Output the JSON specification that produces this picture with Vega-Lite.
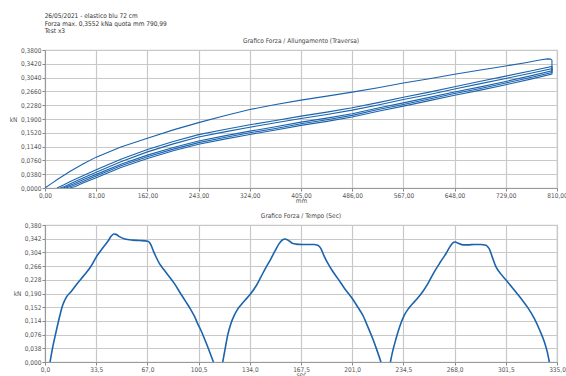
{
  "$schema": "https://vega.github.io/schema/vega-lite/v6.json",
  "padding": {"left": 8, "top": 13, "right": 4, "bottom": 0},
  "title": {
    "text": ["26/05/2021 - elastico blu 72 cm", "Forza max. 0,3552 kNa quota mm 790,99", "Test x3"],
    "anchor": "start", "fontSize": 6.5, "fontWeight": "normal", "color": "#333",
    "lineHeight": 7.5, "dx": 36, "offset": 2, "font": "Liberation Sans Narrow, DejaVu Sans Condensed, Roboto"
  },
  "datasets": {
    "fd": [
      {"c":1,"i":0,"mm":0,"kN":0},{"c":1,"i":1,"mm":10,"kN":0.012},{"c":1,"i":2,"mm":20,"kN":0.024},{"c":1,"i":3,"mm":40,"kN":0.046},{"c":1,"i":4,"mm":60,"kN":0.066},{"c":1,"i":5,"mm":81,"kN":0.085},{"c":1,"i":6,"mm":120,"kN":0.113},{"c":1,"i":7,"mm":162,"kN":0.137},{"c":1,"i":8,"mm":203,"kN":0.16},{"c":1,"i":9,"mm":243,"kN":0.18},{"c":1,"i":10,"mm":284,"kN":0.199},{"c":1,"i":11,"mm":324,"kN":0.216},{"c":1,"i":12,"mm":365,"kN":0.23},{"c":1,"i":13,"mm":405,"kN":0.242},{"c":1,"i":14,"mm":446,"kN":0.253},{"c":1,"i":15,"mm":486,"kN":0.264},{"c":1,"i":16,"mm":527,"kN":0.276},{"c":1,"i":17,"mm":567,"kN":0.289},{"c":1,"i":18,"mm":608,"kN":0.301},{"c":1,"i":19,"mm":648,"kN":0.313},{"c":1,"i":20,"mm":689,"kN":0.325},{"c":1,"i":21,"mm":729,"kN":0.336},{"c":1,"i":22,"mm":760,"kN":0.345},{"c":1,"i":23,"mm":785,"kN":0.353},{"c":1,"i":24,"mm":795,"kN":0.3555},{"c":1,"i":25,"mm":800,"kN":0.355},{"c":1,"i":26,"mm":802,"kN":0.352},
      {"c":1,"i":27,"mm":802,"kN":0.3225},{"c":1,"i":28,"mm":770,"kN":0.3095},{"c":1,"i":29,"mm":729,"kN":0.2935},{"c":1,"i":30,"mm":689,"kN":0.2785},{"c":1,"i":31,"mm":648,"kN":0.2645},{"c":1,"i":32,"mm":608,"kN":0.2495},{"c":1,"i":33,"mm":567,"kN":0.2345},{"c":1,"i":34,"mm":527,"kN":0.2205},{"c":1,"i":35,"mm":486,"kN":0.2045},{"c":1,"i":36,"mm":446,"kN":0.1925},{"c":1,"i":37,"mm":405,"kN":0.1815},{"c":1,"i":38,"mm":365,"kN":0.1685},{"c":1,"i":39,"mm":324,"kN":0.1565},{"c":1,"i":40,"mm":284,"kN":0.1435},{"c":1,"i":41,"mm":243,"kN":0.1295},{"c":1,"i":42,"mm":203,"kN":0.1115},{"c":1,"i":43,"mm":162,"kN":0.0905},{"c":1,"i":44,"mm":120,"kN":0.0655},{"c":1,"i":45,"mm":81,"kN":0.0375},{"c":1,"i":46,"mm":60,"kN":0.0225},{"c":1,"i":47,"mm":45,"kN":0.011},{"c":1,"i":48,"mm":29,"kN":0},
      {"c":2,"i":0,"mm":19,"kN":0},{"c":2,"i":1,"mm":30,"kN":0.009},{"c":2,"i":2,"mm":40,"kN":0.018},{"c":2,"i":3,"mm":60,"kN":0.034},{"c":2,"i":4,"mm":81,"kN":0.05},{"c":2,"i":5,"mm":120,"kN":0.079},{"c":2,"i":6,"mm":162,"kN":0.106},{"c":2,"i":7,"mm":203,"kN":0.128},{"c":2,"i":8,"mm":243,"kN":0.147},{"c":2,"i":9,"mm":284,"kN":0.161},{"c":2,"i":10,"mm":324,"kN":0.174},{"c":2,"i":11,"mm":365,"kN":0.186},{"c":2,"i":12,"mm":405,"kN":0.198},{"c":2,"i":13,"mm":446,"kN":0.209},{"c":2,"i":14,"mm":486,"kN":0.221},{"c":2,"i":15,"mm":527,"kN":0.235},{"c":2,"i":16,"mm":567,"kN":0.25},{"c":2,"i":17,"mm":608,"kN":0.264},{"c":2,"i":18,"mm":648,"kN":0.279},{"c":2,"i":19,"mm":689,"kN":0.294},{"c":2,"i":20,"mm":729,"kN":0.308},{"c":2,"i":21,"mm":770,"kN":0.323},{"c":2,"i":22,"mm":802,"kN":0.335},
      {"c":2,"i":23,"mm":802,"kN":0.318},{"c":2,"i":24,"mm":770,"kN":0.305},{"c":2,"i":25,"mm":729,"kN":0.289},{"c":2,"i":26,"mm":689,"kN":0.274},{"c":2,"i":27,"mm":648,"kN":0.26},{"c":2,"i":28,"mm":608,"kN":0.245},{"c":2,"i":29,"mm":567,"kN":0.23},{"c":2,"i":30,"mm":527,"kN":0.216},{"c":2,"i":31,"mm":486,"kN":0.2},{"c":2,"i":32,"mm":446,"kN":0.188},{"c":2,"i":33,"mm":405,"kN":0.177},{"c":2,"i":34,"mm":365,"kN":0.164},{"c":2,"i":35,"mm":324,"kN":0.152},{"c":2,"i":36,"mm":284,"kN":0.139},{"c":2,"i":37,"mm":243,"kN":0.125},{"c":2,"i":38,"mm":203,"kN":0.107},{"c":2,"i":39,"mm":162,"kN":0.086},{"c":2,"i":40,"mm":120,"kN":0.061},{"c":2,"i":41,"mm":81,"kN":0.033},{"c":2,"i":42,"mm":60,"kN":0.018},{"c":2,"i":43,"mm":45,"kN":0.007},{"c":2,"i":44,"mm":33,"kN":0},
      {"c":3,"i":0,"mm":24,"kN":0},{"c":3,"i":1,"mm":32,"kN":0.005},{"c":3,"i":2,"mm":40,"kN":0.0115},{"c":3,"i":3,"mm":60,"kN":0.0275},{"c":3,"i":4,"mm":81,"kN":0.0435},{"c":3,"i":5,"mm":120,"kN":0.0725},{"c":3,"i":6,"mm":162,"kN":0.0995},{"c":3,"i":7,"mm":203,"kN":0.1215},{"c":3,"i":8,"mm":243,"kN":0.1405},{"c":3,"i":9,"mm":284,"kN":0.1545},{"c":3,"i":10,"mm":324,"kN":0.1675},{"c":3,"i":11,"mm":365,"kN":0.1795},{"c":3,"i":12,"mm":405,"kN":0.1915},{"c":3,"i":13,"mm":446,"kN":0.2025},{"c":3,"i":14,"mm":486,"kN":0.2145},{"c":3,"i":15,"mm":527,"kN":0.2285},{"c":3,"i":16,"mm":567,"kN":0.2435},{"c":3,"i":17,"mm":608,"kN":0.2575},{"c":3,"i":18,"mm":648,"kN":0.2725},{"c":3,"i":19,"mm":689,"kN":0.2875},{"c":3,"i":20,"mm":729,"kN":0.3015},{"c":3,"i":21,"mm":770,"kN":0.3165},{"c":3,"i":22,"mm":802,"kN":0.3285},
      {"c":3,"i":23,"mm":802,"kN":0.3135},{"c":3,"i":24,"mm":770,"kN":0.3005},{"c":3,"i":25,"mm":729,"kN":0.2845},{"c":3,"i":26,"mm":689,"kN":0.2695},{"c":3,"i":27,"mm":648,"kN":0.2555},{"c":3,"i":28,"mm":608,"kN":0.2405},{"c":3,"i":29,"mm":567,"kN":0.2255},{"c":3,"i":30,"mm":527,"kN":0.2115},{"c":3,"i":31,"mm":486,"kN":0.1955},{"c":3,"i":32,"mm":446,"kN":0.1835},{"c":3,"i":33,"mm":405,"kN":0.1725},{"c":3,"i":34,"mm":365,"kN":0.1595},{"c":3,"i":35,"mm":324,"kN":0.1475},{"c":3,"i":36,"mm":284,"kN":0.1345},{"c":3,"i":37,"mm":243,"kN":0.1205},{"c":3,"i":38,"mm":203,"kN":0.1025},{"c":3,"i":39,"mm":162,"kN":0.0815},{"c":3,"i":40,"mm":120,"kN":0.0565},{"c":3,"i":41,"mm":81,"kN":0.0285},{"c":3,"i":42,"mm":60,"kN":0.0135},{"c":3,"i":43,"mm":48,"kN":0.004},{"c":3,"i":44,"mm":39,"kN":0}
    ],
    "ft": [
      {"c":1,"t":3.3,"kN":0},{"c":1,"t":5,"kN":0.04},{"c":1,"t":7.2,"kN":0.083},{"c":1,"t":9.5,"kN":0.125},{"c":1,"t":11.6,"kN":0.158},{"c":1,"t":14,"kN":0.18},{"c":1,"t":17,"kN":0.195},{"c":1,"t":21,"kN":0.217},{"c":1,"t":25.7,"kN":0.241},{"c":1,"t":30,"kN":0.265},{"c":1,"t":33.8,"kN":0.293},{"c":1,"t":37.5,"kN":0.315},{"c":1,"t":41,"kN":0.334},{"c":1,"t":43.5,"kN":0.35},{"c":1,"t":45,"kN":0.355},{"c":1,"t":46.5,"kN":0.354},{"c":1,"t":49,"kN":0.347},{"c":1,"t":52.3,"kN":0.341},{"c":1,"t":57.4,"kN":0.338},{"c":1,"t":62,"kN":0.337},{"c":1,"t":67.2,"kN":0.335},{"c":1,"t":68.5,"kN":0.331},{"c":1,"t":69.4,"kN":0.324},{"c":1,"t":71,"kN":0.307},{"c":1,"t":72.6,"kN":0.292},{"c":1,"t":75,"kN":0.272},{"c":1,"t":78,"kN":0.255},{"c":1,"t":84.6,"kN":0.218},{"c":1,"t":89,"kN":0.188},{"c":1,"t":92,"kN":0.168},{"c":1,"t":95,"kN":0.148},{"c":1,"t":98,"kN":0.125},{"c":1,"t":100,"kN":0.105},{"c":1,"t":102,"kN":0.088},{"c":1,"t":104,"kN":0.068},{"c":1,"t":106,"kN":0.047},{"c":1,"t":108,"kN":0.025},{"c":1,"t":110.2,"kN":0},
      {"c":2,"t":116.3,"kN":0},{"c":2,"t":118,"kN":0.04},{"c":2,"t":119.5,"kN":0.074},{"c":2,"t":121.5,"kN":0.105},{"c":2,"t":123.9,"kN":0.13},{"c":2,"t":126,"kN":0.146},{"c":2,"t":128.2,"kN":0.158},{"c":2,"t":131,"kN":0.172},{"c":2,"t":134.3,"kN":0.188},{"c":2,"t":138,"kN":0.21},{"c":2,"t":141.3,"kN":0.236},{"c":2,"t":144.5,"kN":0.262},{"c":2,"t":147.9,"kN":0.287},{"c":2,"t":150.5,"kN":0.308},{"c":2,"t":153.3,"kN":0.329},{"c":2,"t":155.5,"kN":0.339},{"c":2,"t":157,"kN":0.341},{"c":2,"t":158.5,"kN":0.339},{"c":2,"t":160,"kN":0.335},{"c":2,"t":162,"kN":0.329},{"c":2,"t":164.2,"kN":0.327},{"c":2,"t":168,"kN":0.326},{"c":2,"t":171.8,"kN":0.326},{"c":2,"t":176,"kN":0.326},{"c":2,"t":178.4,"kN":0.324},{"c":2,"t":179.8,"kN":0.319},{"c":2,"t":180.6,"kN":0.314},{"c":2,"t":182.5,"kN":0.295},{"c":2,"t":185,"kN":0.274},{"c":2,"t":188,"kN":0.253},{"c":2,"t":191.5,"kN":0.232},{"c":2,"t":196,"kN":0.204},{"c":2,"t":201.7,"kN":0.172},{"c":2,"t":205,"kN":0.15},{"c":2,"t":207.9,"kN":0.13},{"c":2,"t":211,"kN":0.1},{"c":2,"t":214.4,"kN":0.065},{"c":2,"t":217,"kN":0.035},{"c":2,"t":219.8,"kN":0},
      {"c":3,"t":226,"kN":0},{"c":3,"t":227.5,"kN":0.03},{"c":3,"t":229.7,"kN":0.065},{"c":3,"t":232,"kN":0.097},{"c":3,"t":235.1,"kN":0.13},{"c":3,"t":238,"kN":0.149},{"c":3,"t":240.6,"kN":0.162},{"c":3,"t":244,"kN":0.178},{"c":3,"t":247.1,"kN":0.195},{"c":3,"t":251,"kN":0.221},{"c":3,"t":254.7,"kN":0.25},{"c":3,"t":258.5,"kN":0.276},{"c":3,"t":262.4,"kN":0.301},{"c":3,"t":265,"kN":0.32},{"c":3,"t":267.4,"kN":0.332},{"c":3,"t":268.5,"kN":0.333},{"c":3,"t":270,"kN":0.33},{"c":3,"t":273.3,"kN":0.325},{"c":3,"t":277,"kN":0.325},{"c":3,"t":280.9,"kN":0.326},{"c":3,"t":285,"kN":0.326},{"c":3,"t":288.5,"kN":0.324},{"c":3,"t":289.8,"kN":0.319},{"c":3,"t":290.7,"kN":0.314},{"c":3,"t":292.5,"kN":0.293},{"c":3,"t":295.1,"kN":0.264},{"c":3,"t":298.5,"kN":0.243},{"c":3,"t":302.7,"kN":0.222},{"c":3,"t":307,"kN":0.2},{"c":3,"t":311.5,"kN":0.176},{"c":3,"t":316,"kN":0.15},{"c":3,"t":320.2,"kN":0.12},{"c":3,"t":323.5,"kN":0.09},{"c":3,"t":326.7,"kN":0.056},{"c":3,"t":328.5,"kN":0.03},{"c":3,"t":330,"kN":0}
    ]
  },
  "vconcat": [
    {
      "width": 512, "height": 138,
      "title": {"text": "Grafico Forza / Allungamento (Traversa)", "offset": 3},
      "data": {"name": "fd"},
      "mark": {"type": "line", "color": "#1b64ad", "strokeWidth": 1.1, "interpolate": "linear", "clip": true},
      "encoding": {
        "x": {"field": "mm", "type": "quantitative", "scale": {"domain": [0, 810], "nice": false},
              "axis": {"title": "mm", "values": [0,81,162,243,324,405,486,567,648,729,810], "labelExpr": "replace(format(datum.value, '.2f'), '.', ',')"}},
        "y": {"field": "kN", "type": "quantitative", "scale": {"domain": [0, 0.38], "nice": false},
              "axis": {"title": "kN", "titleY": 69, "titleX": -28, "values": [0,0.038,0.076,0.114,0.152,0.19,0.228,0.266,0.304,0.342,0.38], "labelExpr": "replace(format(datum.value, '.4f'), '.', ',')"}},
        "detail": {"field": "c"},
        "order": {"field": "i", "type": "quantitative"}
      }
    },
    {
      "width": 512, "height": 137,
      "title": {"text": "Grafico Forza / Tempo (Sec)", "offset": 3},
      "data": {"name": "ft"},
      "mark": {"type": "line", "color": "#1b64ad", "strokeWidth": 1.6, "interpolate": "monotone", "clip": true},
      "encoding": {
        "x": {"field": "t", "type": "quantitative", "scale": {"domain": [0, 335], "nice": false},
              "axis": {"title": "sec", "values": [0,33.5,67,100.5,134,167.5,201,234.5,268,301.5,335], "labelExpr": "replace(format(datum.value, '.1f'), '.', ',')"}},
        "y": {"field": "kN", "type": "quantitative", "scale": {"domain": [0, 0.38], "nice": false},
              "axis": {"title": "kN", "titleY": 68.5, "titleX": -24, "values": [0,0.038,0.076,0.114,0.152,0.19,0.228,0.266,0.304,0.342,0.38], "labelExpr": "replace(format(datum.value, '.3f'), '.', ',')"}},
        "detail": {"field": "c"}
      }
    }
  ],
  "spacing": 6,
  "config": {
    "font": "Liberation Sans Narrow, DejaVu Sans Condensed, Roboto",
    "view": {"stroke": "#c8c8c8", "strokeWidth": 1.2},
    "title": {"fontSize": 6.5, "fontWeight": "normal", "color": "#444", "font": "Liberation Sans Narrow, DejaVu Sans Condensed, Roboto"},
    "axis": {
      "labelFont": "Liberation Sans Narrow, DejaVu Sans Condensed, Roboto",
      "titleFont": "Liberation Sans Narrow, DejaVu Sans Condensed, Roboto",
      "labelFontSize": 6.5, "labelColor": "#555", "labelPadding": 1,
      "titleFontSize": 6.5, "titleFontWeight": "normal", "titleColor": "#555",
      "tickColor": "#888", "tickSize": 3, "domainColor": "#999",
      "gridColor": "#c8c8c8", "gridWidth": 1.2
    },
    "axisX": {"titlePadding": -1, "labelFlush": false},
    "axisY": {"titleAngle": 0, "titleAlign": "right", "titleBaseline": "middle", "titlePadding": 0}
  }
}
